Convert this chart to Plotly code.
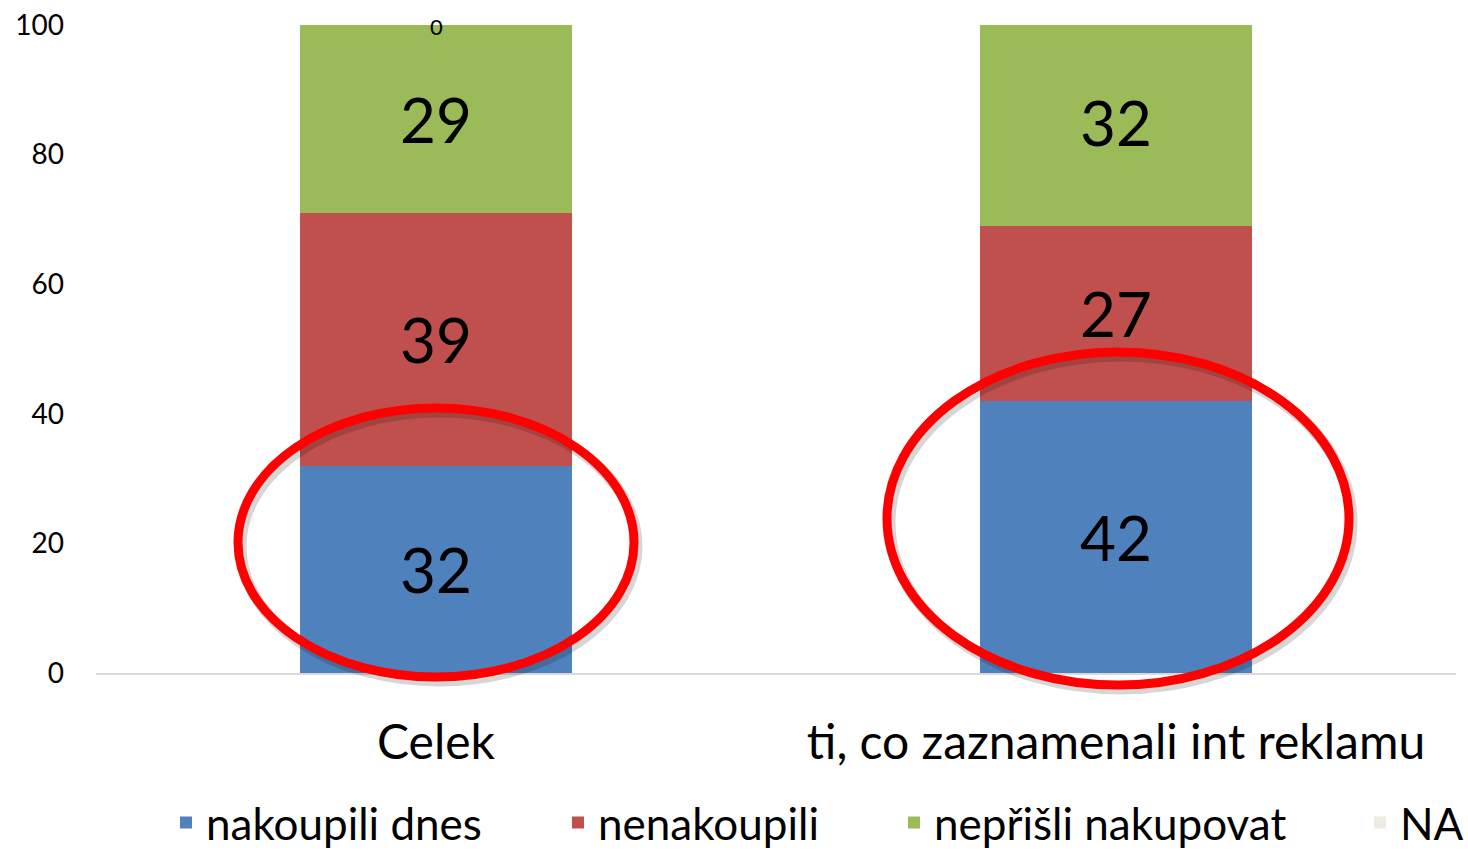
import plotly.graph_objects as go

categories = ["Celek", "ti, co zaznamenali int reklamu"]
series_names = ["nakoupili dnes", "nenakoupili", "nepřišli nakupovat", "NA"]
nakoupili_dnes = [32, 42]
nenakoupili = [39, 27]
neprisli_nakupovat = [29, 32]
na_values = [0, None]
y_ticks = [0, 20, 40, 60, 80, 100]

colors = ["#4F81BD", "#C0504D", "#9BBB59", "#EEECE1"]
FONT = "Lato"

# plot area in pixels
L, R, T, B = 96, 12, 25, 177
W, H = 1468, 850
PW, PH = W - L - R, H - T - B

legend_ids = ["legend", "legend2", "legend3", "legend4"]
legend_item_px = [166, 558, 894, 1360]

fig = go.Figure()
for name, vals, col, lid in zip(series_names,
                                [nakoupili_dnes, nenakoupili, neprisli_nakupovat, na_values],
                                colors, legend_ids):
    is_na = name == "NA"
    fig.add_trace(go.Bar(
        name=name, x=categories, y=vals, legend=lid,
        marker=dict(color=col, line=dict(width=0)),
        text=None if is_na else [str(v) for v in vals],
        textposition="inside", insidetextanchor="middle",
        textangle=0,
        textfont=dict(family=FONT, size=62, color="black"),
    ))

# small label for NA value on top of the Celek stack
base_top = nakoupili_dnes[0] + nenakoupili[0] + neprisli_nakupovat[0]
fig.add_annotation(x=categories[0], y=base_top, text=str(na_values[0]),
                   showarrow=False, yanchor="middle", yshift=-1,
                   font=dict(family=FONT, size=22, color="black"))

def px2paper(x0, y0, x1, y1):
    return dict(x0=(x0 - L) / PW, x1=(x1 - L) / PW,
                y0=(H - B - y1) / PH, y1=(H - B - y0) / PH)

ellipses = [(238, 408, 634, 677), (887, 352, 1349, 685)]
for (a, b, c, d) in ellipses:
    fig.add_shape(type="circle", xref="paper", yref="paper",
                  line=dict(color="rgba(0,0,0,0.16)", width=11),
                  **px2paper(a + 3, b + 4, c + 3, d + 4))
for (a, b, c, d) in ellipses:
    fig.add_shape(type="circle", xref="paper", yref="paper",
                  line=dict(color="#FF0000", width=9),
                  **px2paper(a, b, c, d))

legend_common = dict(orientation="h", xref="container", yref="container",
                     xanchor="left", yanchor="middle", y=(H - 823) / H,
                     bgcolor="rgba(0,0,0,0)", borderwidth=0,
                     font=dict(family=FONT, size=44, color="black"))
legends = {lid: dict(legend_common, x=px / W) for lid, px in zip(legend_ids, legend_item_px)}

fig.update_layout(
    barmode="stack", bargap=0.6,
    width=W, height=H,
    margin=dict(l=L, r=R, t=T, b=B),
    paper_bgcolor="white", plot_bgcolor="white",
    font=dict(family=FONT, color="black"),
    showlegend=True,
    xaxis=dict(showline=True, linecolor="#D9D9D9", linewidth=1.5,
               showgrid=False, ticks="", zeroline=False, automargin=False,
               tickfont=dict(family=FONT, size=48, color="black"),
               ticklabelstandoff=27),
    yaxis=dict(range=[0, 100], tickvals=y_ticks, showgrid=False,
               zeroline=False, showline=False, ticks="", automargin=False,
               tickfont=dict(family=FONT, size=28, color="black"),
               ticklabelstandoff=31),
    **legends,
)

fig.write_html("out.html", config={"displayModeBar": False},
               post_script="document.body.style.margin='0';")
